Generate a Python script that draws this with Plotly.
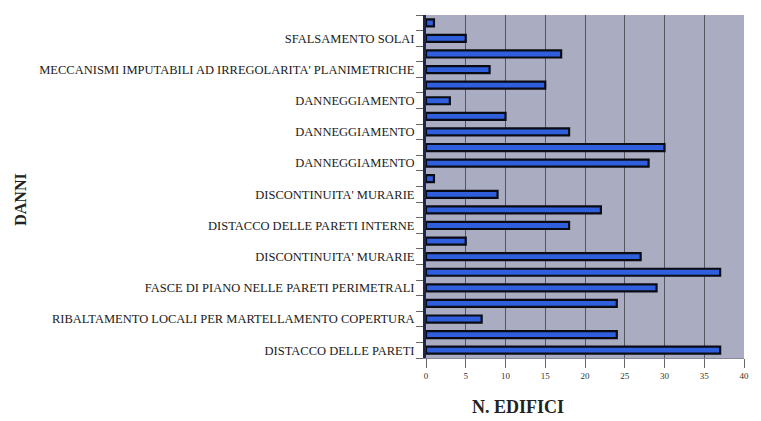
import plotly.graph_objects as go

# Number of buildings per damage type, listed bottom to top
values = [37, 24, 7, 24, 29, 37, 27, 5, 18, 22, 9, 1, 28, 30, 18, 10, 3, 15, 8, 17, 5, 1]

# Only every other category carries a label on the axis
labels = [
    "DISTACCO DELLE PARETI",
    "RIBALTAMENTO LOCALI PER MARTELLAMENTO COPERTURA",
    "FASCE DI PIANO NELLE PARETI PERIMETRALI",
    "DISCONTINUITA' MURARIE",
    "DISTACCO DELLE PARETI INTERNE",
    "DISCONTINUITA' MURARIE",
    "DANNEGGIAMENTO",
    "DANNEGGIAMENTO",
    "DANNEGGIAMENTO",
    "MECCANISMI IMPUTABILI AD IRREGOLARITA' PLANIMETRICHE",
    "SFALSAMENTO SOLAI",
]

x_ticks = [0, 5, 10, 15, 20, 25, 30, 35, 40]

positions = list(range(len(values)))
label_positions = positions[0::2]

serif = "Liberation Serif, Times New Roman, serif"

fig = go.Figure()
fig.add_trace(go.Bar(
    x=values,
    y=positions,
    orientation="h",
    width=0.45,
    marker=dict(color="#2f5fdc", line=dict(color="#0b0b14", width=2.2)),
    hoverinfo="x",
))

fig.update_layout(
    width=761,
    height=421,
    margin=dict(l=426, r=13, t=15, b=63),
    paper_bgcolor="white",
    plot_bgcolor="#aaadc2",
    showlegend=False,
    font=dict(family=serif, color="#1a1a1a"),
    xaxis=dict(
        range=[0, 40],
        tickvals=x_ticks,
        ticktext=[str(v) for v in x_ticks],
        ticks="outside",
        ticklen=9,
        tickcolor="#666",
        tickfont=dict(family=serif, size=9, color="#333"),
        showgrid=True,
        gridcolor="#555560",
        gridwidth=1,
        zeroline=False,
        showline=True,
        linecolor="#8a8a96",
        linewidth=1,
        fixedrange=True,
    ),
    yaxis=dict(
        range=[-0.5, len(values) - 0.5],
        tickvals=label_positions,
        ticktext=labels,
        ticks="",
        tickfont=dict(family=serif, size=12.5, color="#1a1a1a"),
        ticklabelstandoff=6,
        minor=dict(ticks="outside", tick0=0.5, dtick=1, ticklen=7,
                   tickcolor="#666", showgrid=False),
        showgrid=False,
        zeroline=False,
        showline=True,
        linecolor="#1c2450",
        linewidth=3,
        fixedrange=True,
    ),
    annotations=[
        dict(text="<b>N. EDIFICI</b>", xref="paper", yref="paper",
             x=0.137, y=-0.108, xanchor="left", yanchor="top",
             showarrow=False, font=dict(family=serif, size=18, color="#222")),
        dict(text="<b>DANNI</b>", xref="paper", yref="paper",
             x=-1.275, y=0.46, xanchor="center", yanchor="middle",
             textangle=-90, showarrow=False,
             font=dict(family=serif, size=16, color="#222")),
    ],
)

fig.write_html("out.html")
